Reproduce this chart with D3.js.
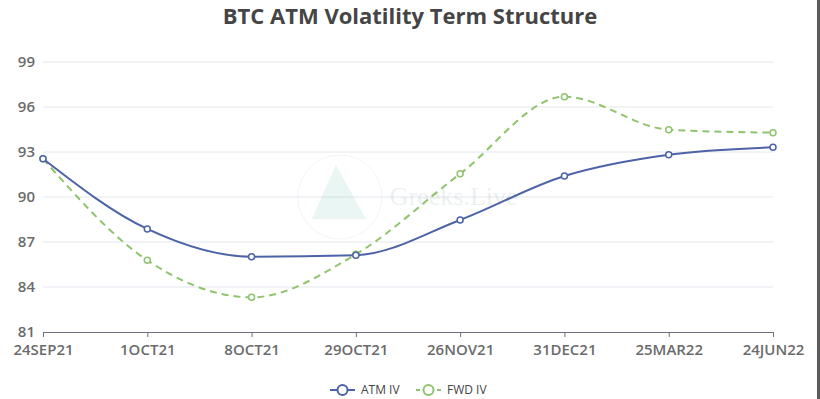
<!DOCTYPE html>
<html lang="en">
<head>
<meta charset="utf-8">
<title>BTC ATM Volatility Term Structure</title>
<script src="https://cdn.jsdelivr.net/npm/d3@7"></script>
<style>
  body { margin: 0; background: #fff; }
  .axis_text { font-family: "Open Sans", "Noto Sans", sans-serif; font-size: 15px; font-weight: 600; fill: #6b6b6b; }
  .title_text { font-family: "Open Sans", "Noto Sans", sans-serif; font-size: 22px; font-weight: 700; fill: #454545; }
  .legend_text { font-family: "Open Sans", "Noto Sans", sans-serif; font-size: 12px; fill: #444; }
</style>
</head>
<body>
<div id="chart"></div>
<script>
var expiries = ["24SEP21", "1OCT21", "8OCT21", "29OCT21", "26NOV21", "31DEC21", "25MAR22", "24JUN22"];
var atmIV = [92.55, 87.87, 86.02, 86.12, 88.47, 91.4, 92.82, 93.31];
var fwdIV = [92.55, 85.78, 83.31, 86.18, 91.55, 96.69, 94.49, 94.29];
var yTicks = [81, 84, 87, 90, 93, 96, 99];

var W = 820, H = 399;
var margin = {top: 62, right: 47, bottom: 67, left: 43};
var width = W - margin.left - margin.right,
    height = H - margin.top - margin.bottom;

var svg = d3.select("#chart").append("svg")
    .attr("width", W).attr("height", H);

var g = svg.append("g").attr("transform", "translate(" + margin.left + "," + margin.top + ")");

var x = d3.scalePoint().domain(expiries).range([0, width]);
var y = d3.scaleLinear().domain([81, 99]).range([height, 0]);

// grid lines
g.selectAll(".grid").data(yTicks.slice(1)).enter().append("line")
    .attr("x1", 0).attr("x2", width)
    .attr("y1", function(d) { return y(d); }).attr("y2", function(d) { return y(d); })
    .style("stroke", "#e3e6ec").style("stroke-width", 1);

// watermark
var wm = g.append("g").attr("transform", "translate(" + (x("29OCT21") - 16) + "," + y(90) + ")").style("opacity", 0.12);
wm.append("circle").attr("r", 42).style("fill", "none").style("stroke", "#9bb7b0").style("stroke-width", 1);
wm.append("path").attr("d", "M-4,-32 L-28,22 L26,22 Z").style("fill", "#4fb9a0");
wm.append("text").attr("x", 50).attr("y", 8)
    .style("font-family", "Liberation Serif, serif").style("font-size", "26px").style("fill", "#6a8f88")
    .text("Greeks.Live");

// y axis labels
g.selectAll(".ylab").data(yTicks).enter().append("text")
    .attr("class", "axis_text")
    .attr("x", -8).attr("y", function(d) { return y(d); })
    .attr("dy", "0.35em").attr("text-anchor", "end")
    .text(function(d) { return d; });

// x axis
var xAxis = g.append("g").attr("transform", "translate(0," + height + ")")
    .call(d3.axisBottom(x).tickSize(5).tickPadding(4));
xAxis.select(".domain").style("stroke", "#6e7079");
xAxis.selectAll(".tick line").style("stroke", "#6e7079");
xAxis.selectAll(".tick text").attr("class", "axis_text").attr("dy", "0.9em");

var line = d3.line()
    .x(function(d, i) { return x(expiries[i]); })
    .y(function(d) { return y(d); })
    .curve(d3.curveMonotoneX);

var series = [
  {name: "ATM IV", values: atmIV, color: "#4d63a8", dash: null, r: 3},
  {name: "FWD IV", values: fwdIV, color: "#8ec46e", dash: "7,5", r: 3}
];

series.slice().reverse().forEach(function(s) {
  g.append("path").datum(s.values)
      .attr("d", line)
      .style("fill", "none").style("stroke", s.color).style("stroke-width", 2)
      .style("stroke-dasharray", s.dash);
  g.selectAll(null).data(s.values).enter().append("circle")
      .attr("cx", function(d, i) { return x(expiries[i]); })
      .attr("cy", function(d) { return y(d); })
      .attr("r", s.r)
      .style("fill", "#fff").style("stroke", s.color).style("stroke-width", 1.5);
});

// legend
var legend = svg.append("g").attr("transform", "translate(330," + 390 + ")");
var lx = [0, 86];
series.forEach(function(s, i) {
  var lg = legend.append("g").attr("transform", "translate(" + lx[i] + ",0)");
  lg.append("line").attr("x1", 0).attr("x2", 25).attr("y1", 0).attr("y2", 0)
      .style("stroke", s.color).style("stroke-width", 2).style("stroke-dasharray", s.dash ? "4,3" : null);
  lg.append("circle").attr("cx", 12.5).attr("cy", 0).attr("r", 5)
      .style("fill", "#fff").style("stroke", s.color).style("stroke-width", 2);
  lg.append("text").attr("class", "legend_text").attr("x", 31).attr("y", 0).attr("dy", "0.35em").text(s.name);
});

// title
svg.append("text").attr("class", "title_text")
    .attr("x", 410).attr("y", 24).attr("text-anchor", "middle")
    .text("BTC ATM Volatility Term Structure");

// right edge border
svg.append("rect").attr("x", 817).attr("y", 0).attr("width", 3).attr("height", H).style("fill", "#5a5a5a");
</script>
</body>
</html>
